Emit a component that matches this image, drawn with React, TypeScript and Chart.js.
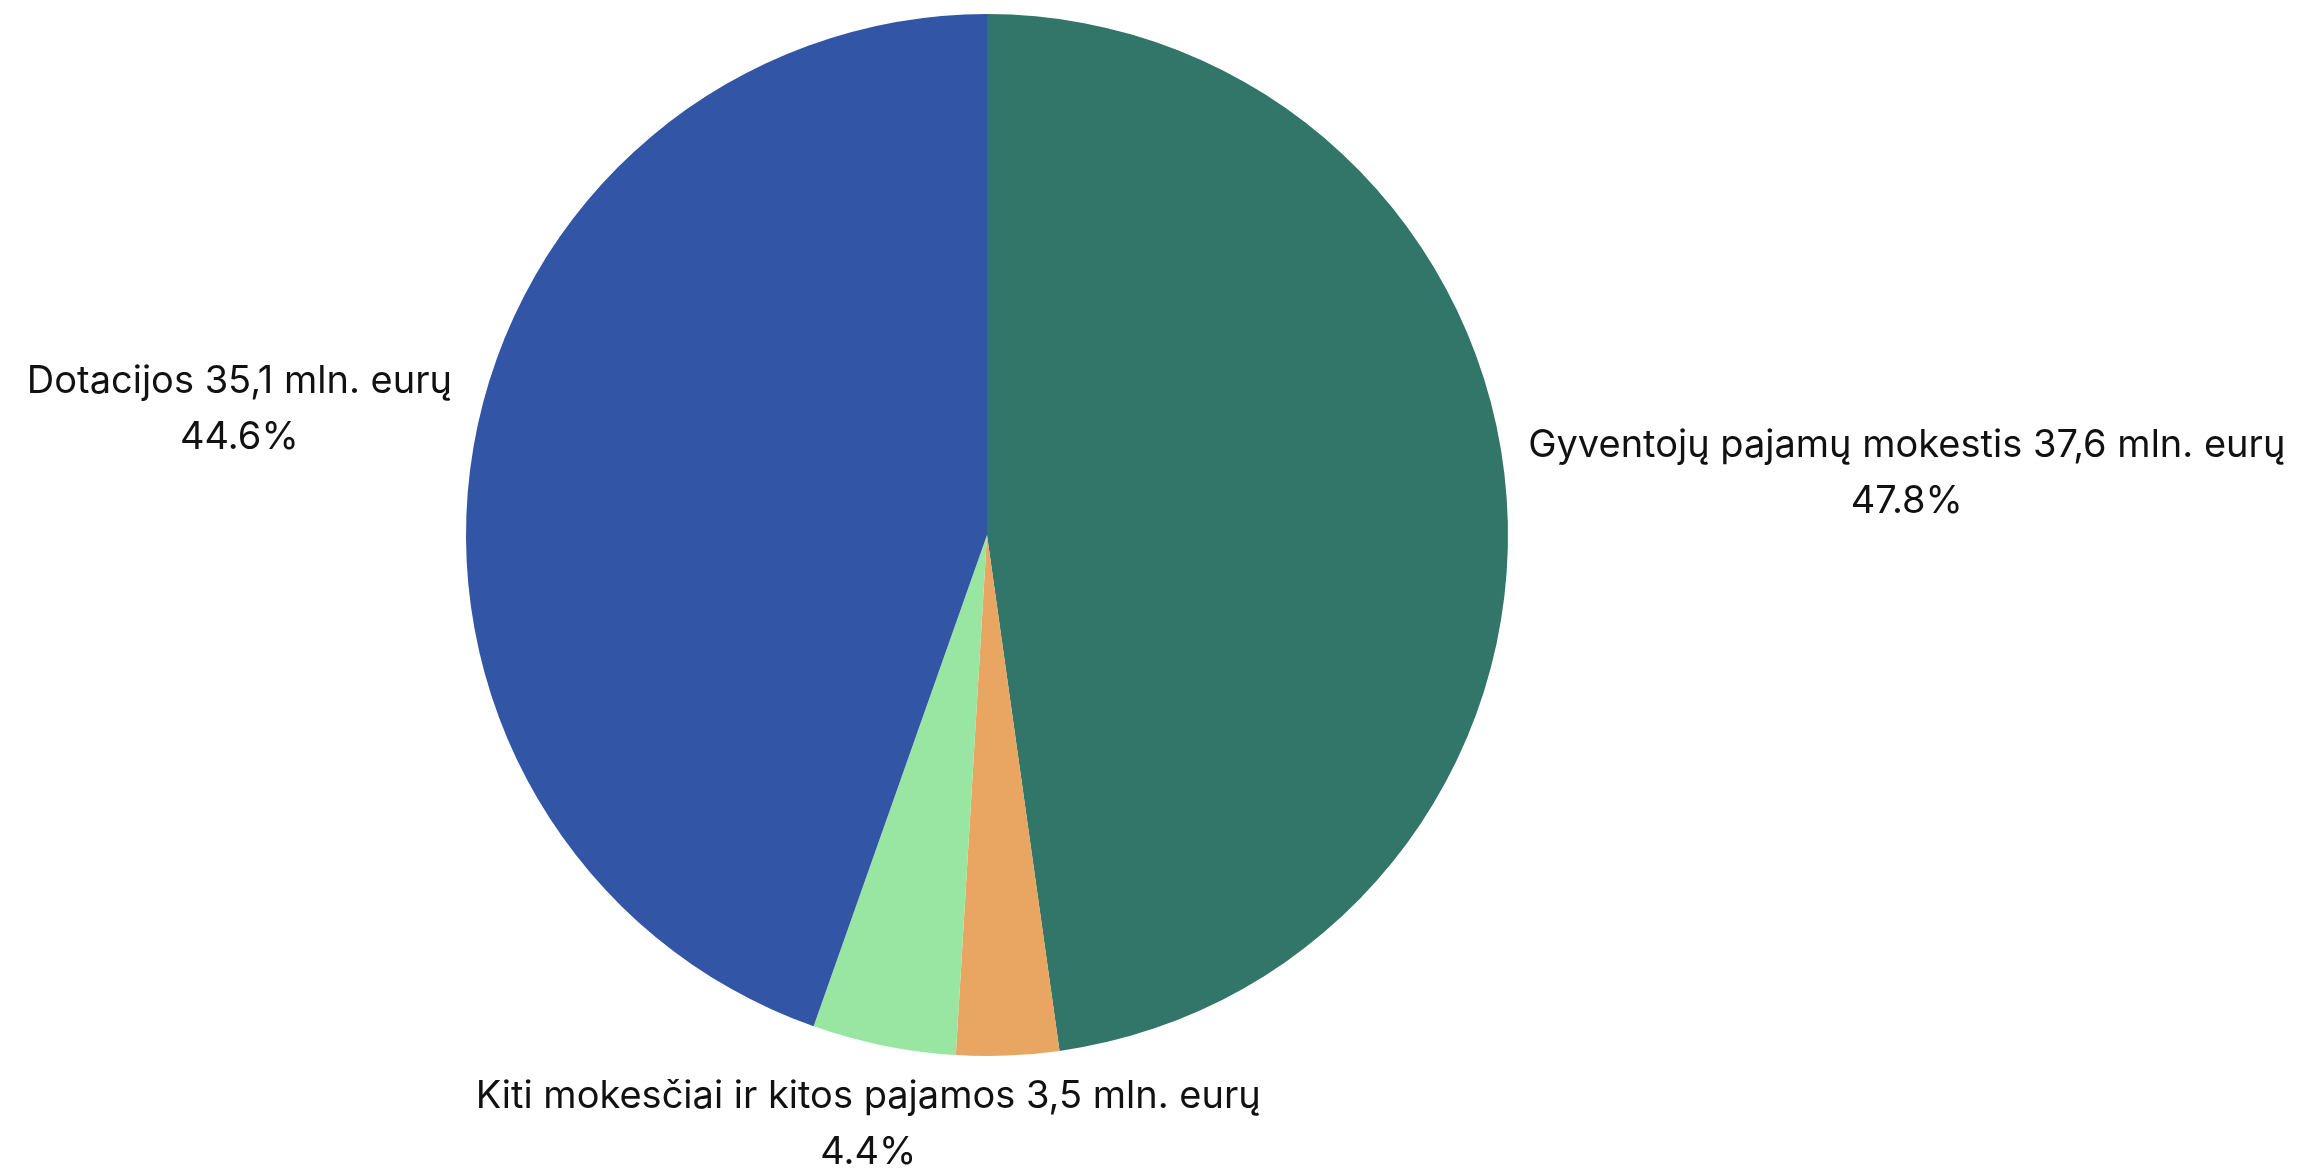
import React, { useEffect, useRef } from "react";
import { Chart, registerables } from "chart.js";

Chart.register(...registerables);

// ---- Data ----
const categories = [
  "Gyventojų pajamų mokestis",
  "Turto mokesčiai",
  "Kiti mokesčiai ir kitos pajamos",
  "Dotacijos",
];
const valuesMlnEur = [37.6, 2.5, 3.5, 35.1];
const sliceColors = ["#32766A", "#E9A562", "#99E6A2", "#3355A6"];
const showLabel = [true, false, true, true];

// ---- Label layout ----
const FONT_SIZE = 38;
const FONT_FAMILY = "Inter";
const GAP = 20;
const BOX_H = 92;
const LINE1_OFFSET = 32;
const LINE2_OFFSET = 88;

const outsideLabels = {
  id: "outsideLabels",
  afterDraw(chart: any) {
    const ctx = chart.ctx as CanvasRenderingContext2D;
    const meta = chart.getDatasetMeta(0);
    const data = chart.data.datasets[0].data as number[];
    const total = data.reduce((a, b) => a + b, 0);
    ctx.save();
    ctx.font = `${FONT_SIZE}px ${FONT_FAMILY}`;
    ctx.fillStyle = "#111111";
    ctx.textAlign = "center";
    ctx.textBaseline = "alphabetic";
    meta.data.forEach((arc: any, i: number) => {
      if (!showLabel[i]) return;
      const { x, y, startAngle, endAngle, outerRadius } = arc.getProps(
        ["x", "y", "startAngle", "endAngle", "outerRadius"],
        true
      );
      const mid = (startAngle + endAngle) / 2;
      const l1 = `${categories[i]} ${valuesMlnEur[i].toFixed(1).replace(".", ",")} mln. eurų`;
      const l2 = `${((data[i] / total) * 100).toFixed(1)}%`;
      const w = Math.max(ctx.measureText(l1).width, ctx.measureText(l2).width);
      const h = BOX_H;
      const dx = Math.cos(mid);
      const dy = Math.sin(mid);
      let t = outerRadius;
      for (; t < outerRadius * 3; t += 0.5) {
        const bx = x + t * dx;
        const by = y + t * dy;
        const left = bx - w / 2;
        const right = bx + w / 2;
        const top = by - h / 2;
        const bottom = by + h / 2;
        const nx = Math.max(left, Math.min(x, right));
        const ny = Math.max(top, Math.min(y, bottom));
        if (Math.hypot(nx - x, ny - y) >= outerRadius + GAP) break;
      }
      const cx = x + t * dx;
      const top = y + t * dy - h / 2;
      ctx.fillText(l1, cx, top + LINE1_OFFSET);
      ctx.fillText(l2, cx, top + LINE2_OFFSET);
    });
    ctx.restore();
  },
};

export default function App() {
  const canvasRef = useRef<HTMLCanvasElement | null>(null);

  useEffect(() => {
    if (!canvasRef.current) return;
    const chart = new Chart(canvasRef.current, {
      type: "pie",
      data: {
        labels: categories,
        datasets: [
          {
            data: valuesMlnEur,
            backgroundColor: sliceColors,
            borderWidth: 0,
          },
        ],
      },
      options: {
        animation: false,
        responsive: true,
        maintainAspectRatio: false,
        devicePixelRatio: 1,
        layout: { padding: { top: 14, bottom: 112, left: 0, right: 327 } },
        plugins: {
          legend: { display: false },
          tooltip: { enabled: false },
        },
      },
      plugins: [outsideLabels],
    });
    return () => chart.destroy();
  }, []);

  return (
    <div
      style={{
        position: "fixed",
        left: 0,
        top: 0,
        width: 2301,
        height: 1168,
        background: "#ffffff",
      }}
    >
      <canvas ref={canvasRef} style={{ width: "100%", height: "100%" }} />
    </div>
  );
}
